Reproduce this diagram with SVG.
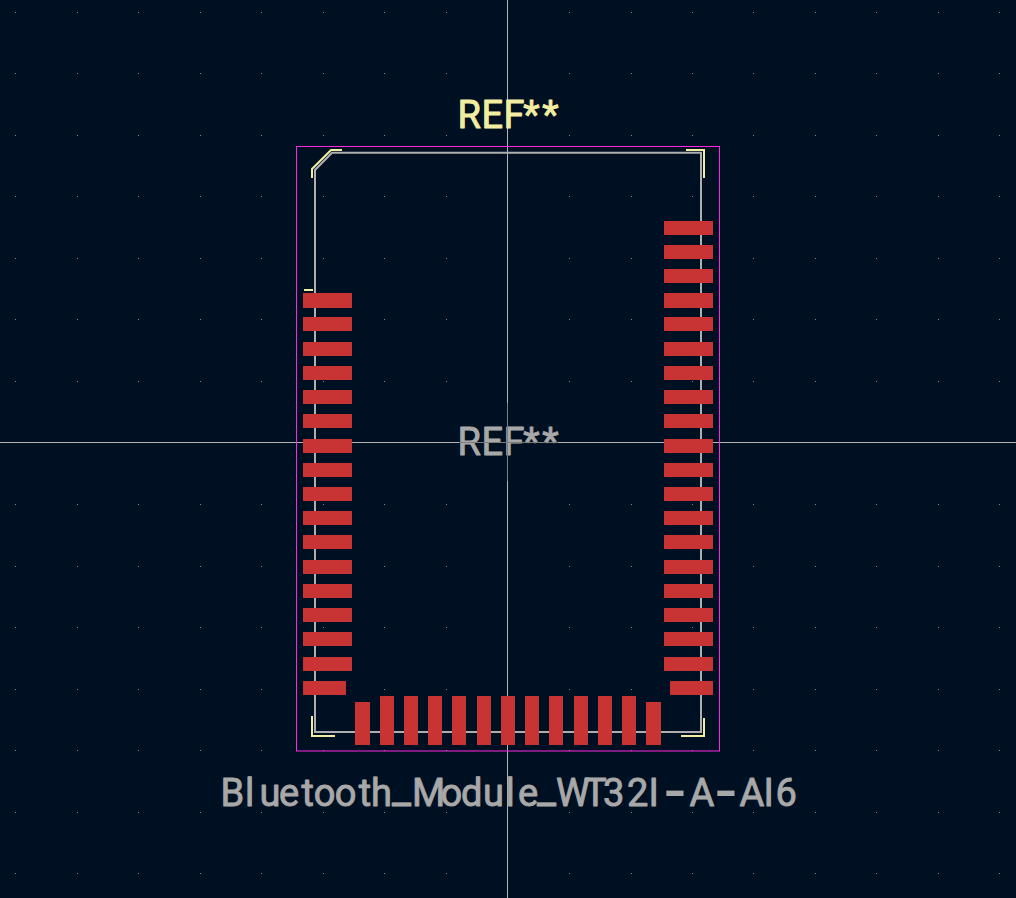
<svg xmlns="http://www.w3.org/2000/svg" width="1016" height="898" viewBox="0 0 1016 898">
<style>
.txt{font-family:Roboto,"Liberation Sans",sans-serif;font-size:38px;stroke-width:.9;stroke-linejoin:round}
.ref{fill:#f2eda1;stroke:#f2eda1}
.gray{fill:#a8a8a8;stroke:#a8a8a8}
.silk{fill:none;stroke:#f2eda1;stroke-width:2}
.fab{fill:none;stroke:#afafaf;stroke-width:2}
.pad{fill:#c83434}
.cross{stroke:#b4b4b4;stroke-width:1;fill:none}
.dim{stroke:#7c7c7c;stroke-width:1;fill:none}
</style>
<defs>
<path id="row" fill="none" stroke="#84878c" stroke-width="1" d="M15 .5h1M77 .5h1M138 .5h1M200 .5h1M261 .5h1M323 .5h1M384 .5h1M446 .5h1M507 .5h1M569 .5h1M631 .5h1M692 .5h1M753 .5h1M815 .5h1M876 .5h1M938 .5h1M999 .5h1"/>
<rect id="hp" class="pad" width="49" height="14"/>
<rect id="vp" class="pad" width="14" height="49"/>
</defs>
<rect width="1016" height="898" fill="#001023"/>
<g id="grid">
<use href="#row" y="12"/><use href="#row" y="73"/><use href="#row" y="135"/><use href="#row" y="196"/><use href="#row" y="258"/><use href="#row" y="319"/><use href="#row" y="381"/><use href="#row" y="442"/><use href="#row" y="504"/><use href="#row" y="566"/><use href="#row" y="627"/><use href="#row" y="689"/><use href="#row" y="750"/><use href="#row" y="812"/><use href="#row" y="873"/>
</g>
<g id="crosshair">
<path class="cross" d="M507.5 0V898M0 442.5H1016"/>
</g>
<g id="courtyard"><rect x="296.5" y="146.5" width="423" height="604.5" fill="none" stroke="#ff26e2" stroke-width="1"/></g>
<g id="fab"><path class="fab" d="M315 291V170L332 152.7H701V732H315V291"/></g>
<g id="silk">
<path class="silk" d="M312 178V169L331 150H342"/>
<path class="silk" d="M304 290H313"/>
<path class="silk" d="M686 150H704V178"/>
<path class="silk" d="M312 716V736H335"/>
<path class="silk" d="M704 718V736H681"/>
</g>
<g id="pads-left">
<rect class="pad" x="303" y="293" width="49" height="15"/><use href="#hp" x="303" y="317"/><use href="#hp" x="303" y="342"/><use href="#hp" x="303" y="366"/><use href="#hp" x="303" y="390"/><use href="#hp" x="303" y="414"/><use href="#hp" x="303" y="439"/><use href="#hp" x="303" y="463"/><use href="#hp" x="303" y="487"/><use href="#hp" x="303" y="511"/><use href="#hp" x="303" y="535"/><use href="#hp" x="303" y="560"/><use href="#hp" x="303" y="584"/><use href="#hp" x="303" y="608"/><use href="#hp" x="303" y="632"/><use href="#hp" x="303" y="657"/>
<rect class="pad" x="303" y="681" width="43" height="14"/>
</g>
<g id="pads-right">
<use href="#hp" x="664" y="221"/><use href="#hp" x="664" y="245"/><use href="#hp" x="664" y="269"/><rect class="pad" x="664" y="293" width="49" height="15"/><use href="#hp" x="664" y="317"/><use href="#hp" x="664" y="342"/><use href="#hp" x="664" y="366"/><use href="#hp" x="664" y="390"/><use href="#hp" x="664" y="414"/><use href="#hp" x="664" y="439"/><use href="#hp" x="664" y="463"/><use href="#hp" x="664" y="487"/><use href="#hp" x="664" y="511"/><use href="#hp" x="664" y="535"/><use href="#hp" x="664" y="560"/><use href="#hp" x="664" y="584"/><use href="#hp" x="664" y="608"/><use href="#hp" x="664" y="632"/><use href="#hp" x="664" y="657"/>
<rect class="pad" x="670" y="681" width="43" height="14"/>
</g>
<g id="pads-bottom">
<rect class="pad" x="355" y="702" width="15" height="43"/>
<use href="#vp" x="380" y="696"/><use href="#vp" x="404" y="696"/><use href="#vp" x="428" y="696"/><use href="#vp" x="452" y="696"/><use href="#vp" x="477" y="696"/><use href="#vp" x="501" y="696"/><use href="#vp" x="525" y="696"/><use href="#vp" x="549" y="696"/><use href="#vp" x="574" y="696"/><use href="#vp" x="598" y="696"/><use href="#vp" x="622" y="696"/>
<rect class="pad" x="646" y="702" width="15" height="43"/>
</g>
<g id="texts">
<text class="txt ref" y="128" x="457.5 481.5 503.5 523.3 542.3">REF**</text>
<text class="txt gray" y="455" x="457.5 481.5 503.5 523.3 542.3">REF**</text>
<path class="dim" d="M459 442.5H558M507.5 403V481"/>
<text class="txt gray" y="806"><tspan x="220.5 245 259.5 279 301.5 313.7 334.7 358.7 371">Bluetooth</tspan><tspan x="392" y="803" font-size="42">_</tspan><tspan y="806" x="412 440.5 461 483 505.5 518">Module</tspan><tspan x="537" y="803" font-size="42">_</tspan><tspan y="806" x="556 584 603 627 648.5">WT32I</tspan><tspan x="665" y="815" font-size="72" stroke-width="0">-</tspan><tspan y="806" x="689.5">A</tspan><tspan x="716" y="815" font-size="72" stroke-width="0">-</tspan><tspan y="806" x="739.5 763.5 775.5">AI6</tspan></text>
</g>
</svg>
